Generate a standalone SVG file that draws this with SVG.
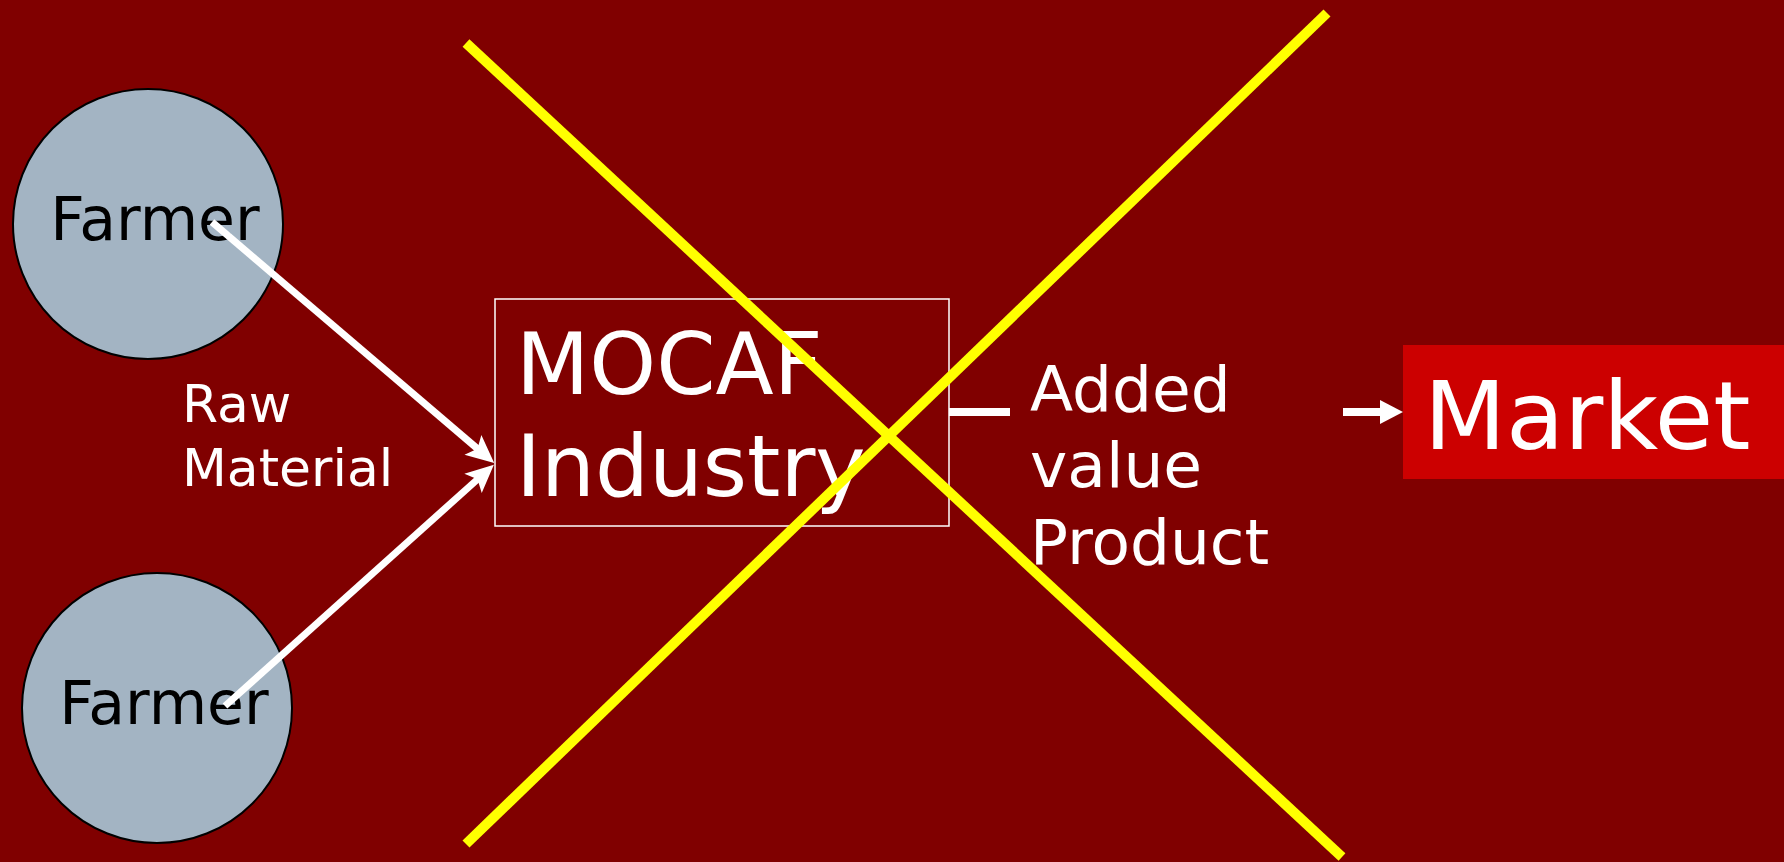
<svg xmlns="http://www.w3.org/2000/svg" width="1784" height="862" viewBox="0 0 1784 862">
<style>
.farmer{fill:#A3B4C3;stroke:#000;stroke-width:2}
.t{font-family:"DejaVu Sans",Verdana,sans-serif}
.w{fill:#fff}
.conn{stroke:#fff;fill:none}
.cross{stroke:#FFFF00;stroke-width:10;stroke-linecap:butt}
</style>
<defs>
<marker id="stealth" viewBox="-10 -16 35 32" markerWidth="35" markerHeight="32" refX="0" refY="0" markerUnits="userSpaceOnUse" orient="auto">
<path d="M20,0 L-8,-13 L-2,0 L-8,13 Z" fill="#fff"/>
</marker>
<marker id="tri" viewBox="0 -13 24 26" markerWidth="24" markerHeight="26" refX="0" refY="0" markerUnits="userSpaceOnUse" orient="auto">
<path d="M0,-12 L23,0 L0,12 Z" fill="#fff"/>
</marker>
</defs>
<rect x="0" y="0" width="1784" height="862" fill="#800000"/>
<g id="farmer1">
<circle class="farmer" cx="148" cy="224" r="135"/>
<text class="t" x="155" y="240" font-size="60" text-anchor="middle" fill="#000">Farmer</text>
</g>
<g id="farmer2">
<circle class="farmer" cx="157" cy="708" r="135"/>
<text class="t" x="164" y="724" font-size="60" text-anchor="middle" fill="#000">Farmer</text>
</g>
<g id="raw-label">
<text class="t w" font-size="52"><tspan x="182" y="422">Raw</tspan><tspan x="182" y="486">Material</tspan></text>
</g>
<g id="mocaf">
<rect x="495" y="299" width="454" height="227" fill="none" stroke="#fff" stroke-width="1.5"/>
<text class="t w" font-size="85"><tspan x="516" y="394">MOCAF</tspan><tspan x="516" y="496">Industry</tspan></text>
</g>
<g id="product-label">
<text class="t w" font-size="63"><tspan x="1030" y="411">Added</tspan><tspan x="1030" y="487">value</tspan><tspan x="1030" y="564">Product</tspan></text>
</g>
<g id="market">
<rect x="1403" y="345" width="381" height="134" fill="#CC0000"/>
<text class="t w" x="1424" y="449" font-size="95">Market</text>
</g>
<g id="connectors">
<line class="conn" x1="212" y1="222" x2="479" y2="450" stroke-width="7" marker-end="url(#stealth)"/>
<line class="conn" x1="225" y1="706" x2="479" y2="478" stroke-width="7" marker-end="url(#stealth)"/>
<line class="conn" x1="949" y1="412" x2="1010" y2="412" stroke-width="8"/>
<line class="conn" x1="1343" y1="412" x2="1380" y2="412" stroke-width="8" marker-end="url(#tri)"/>
</g>
<g id="cross">
<line class="cross" x1="466" y1="43" x2="1342" y2="857"/>
<line class="cross" x1="466" y1="844" x2="1327" y2="13"/>
</g>
</svg>
